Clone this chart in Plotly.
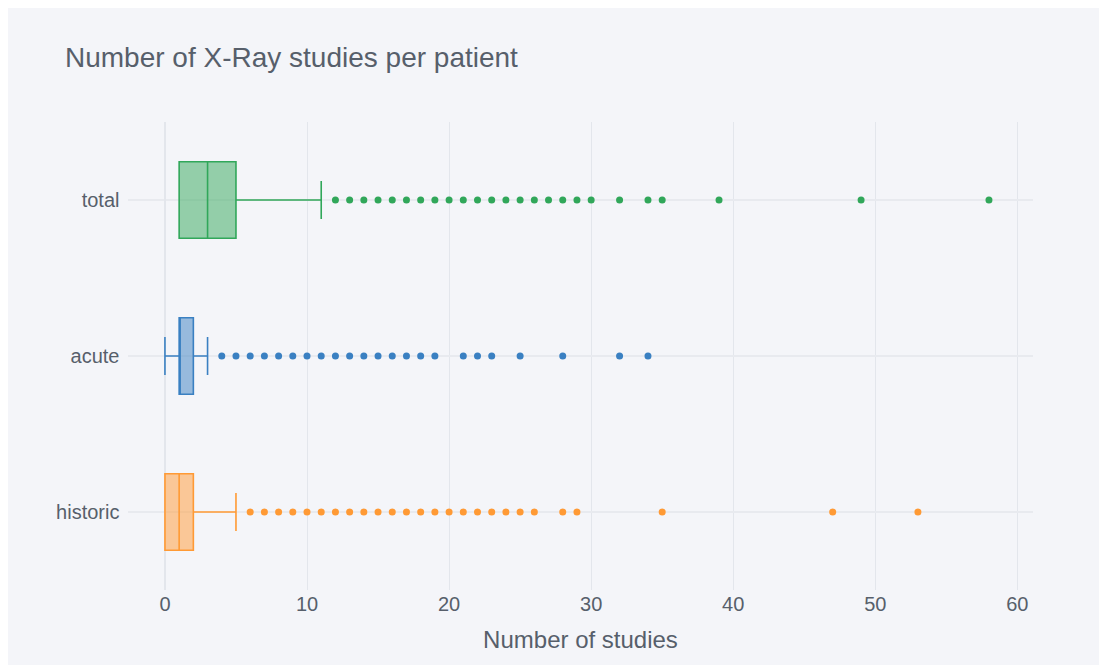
import plotly.graph_objects as go

# Box statistics
categories = ["historic", "acute", "total"]
q1 = [0, 1, 1]
median = [1, 1, 3]
q3 = [2, 2, 5]
lower_fence = [0, 0, 1]
upper_fence = [5, 3, 11]

# Outlier points per category
historic_outliers = [6, 7, 8, 9, 10, 11, 12, 13, 14, 15, 16, 17, 18, 19, 20, 21, 22, 23, 24, 25, 26,
                     28, 29, 35, 47, 53]
acute_outliers = [4, 5, 6, 7, 8, 9, 10, 11, 12, 13, 14, 15, 16, 17, 18, 19,
                  21, 22, 23, 25, 28, 32, 34]
total_outliers = [12, 13, 14, 15, 16, 17, 18, 19, 20, 21, 22, 23, 24, 25, 26, 27, 28, 29, 30,
                  32, 34, 35, 39, 49, 58]

outliers = [historic_outliers, acute_outliers, total_outliers]
colors = ["#ff9a35", "#3a80c2", "#31a75a"]

W, H = 1097, 657
BG = "#f4f5f9"
TEXT = "#575f6b"

fig = go.Figure()
for i, cat in enumerate(categories):
    fig.add_trace(go.Box(
        y=[cat], q1=[q1[i]], median=[median[i]], q3=[q3[i]],
        lowerfence=[lower_fence[i]], upperfence=[upper_fence[i]],
        orientation="h", name=cat, boxpoints=False,
        line=dict(color=colors[i], width=1.6), whiskerwidth=0.5,
    ))
    fig.add_trace(go.Scatter(
        x=outliers[i], y=[cat] * len(outliers[i]), mode="markers",
        marker=dict(color=colors[i], size=7), name=cat, hoverinfo="x",
    ))

fig.update_layout(
    width=W, height=H,
    paper_bgcolor=BG, plot_bgcolor=BG,
    font=dict(family="Liberation Sans, Arial, sans-serif", size=20, color=TEXT),
    title=dict(text="Number of X-Ray studies per patient", font=dict(size=28, color=TEXT),
               x=57 / W, xanchor="left", y=1 - 49 / H, yanchor="middle"),
    margin=dict(l=120, r=72, t=114, b=75),
    showlegend=False,
)
fig.update_xaxes(title=dict(text="Number of studies", font=dict(size=24), standoff=17),
                 range=[-2.6, 61.1], dtick=10, showgrid=True, gridcolor="#e3e6ec", gridwidth=1,
                 zeroline=True, zerolinecolor="#e3e6ec", zerolinewidth=2,
                 showline=False, ticks="")
fig.update_yaxes(type="category", categoryorder="array", categoryarray=categories,
                 showgrid=True, gridcolor="#e8eaef", gridwidth=2, showline=False, ticks="",
                 ticksuffix=" ", ticklabelstandoff=2)

fig.write_html("out.html")
